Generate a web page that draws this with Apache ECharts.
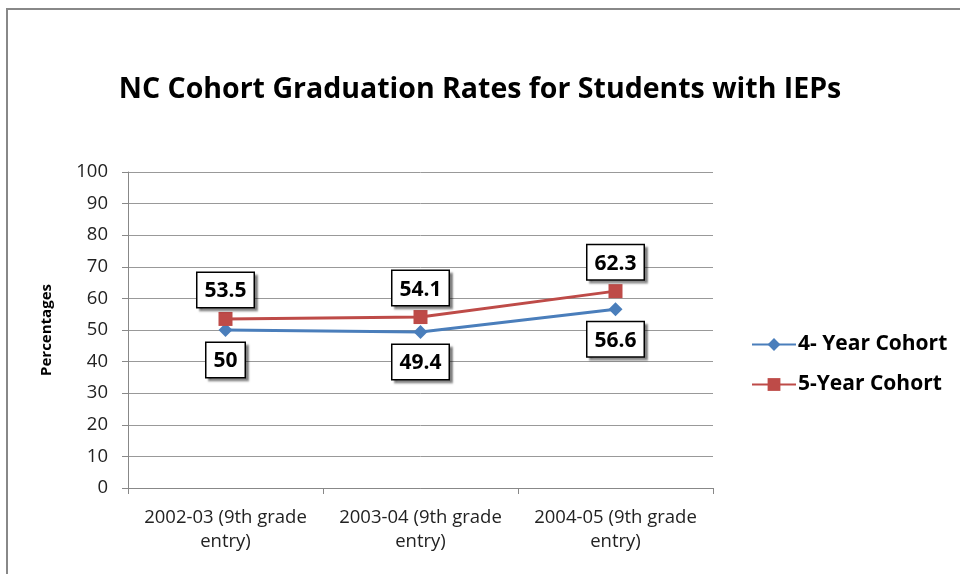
<!DOCTYPE html>
<html>
<head>
<meta charset="utf-8">
<script src="https://cdn.jsdelivr.net/npm/echarts@6/dist/echarts.min.js"></script>
<style>
html,body{margin:0;padding:0;background:#fff;}
#c{width:960px;height:574px;}
</style>
</head>
<body>
<div id="c"></div>
<script>
const categories = ['2002-03 (9th grade\nentry)', '2003-04 (9th grade\nentry)', '2004-05 (9th grade\nentry)'];
const fourYear = [50, 49.4, 56.6];
const fiveYear = [53.5, 54.1, 62.3];
const seriesNames = ['4- Year Cohort', '5-Year Cohort'];
const titleText = 'NC Cohort Graduation Rates for Students with IEPs';
const yAxisName = 'Percentages';

const FONT = '"Open Sans", sans-serif';
const chart = echarts.init(document.getElementById('c'));

const labelBox = (pos, dist) => ({
  show: true,
  position: pos,
  distance: dist,
  fontFamily: FONT,
  fontWeight: 'bold',
  fontSize: 21,
  color: '#000',
  backgroundColor: '#fff',
  borderColor: '#000',
  borderWidth: 1.5,
  padding: [8, 7, 5, 7],
  shadowColor: 'rgba(0,0,0,0.35)',
  shadowOffsetX: 3,
  shadowOffsetY: 3,
  shadowBlur: 2
});

chart.setOption({
  animation: false,
  backgroundColor: '#fff',
  graphic: [{
    type: 'rect',
    shape: { x: 7, y: 9, width: 1000, height: 620 },
    style: { fill: 'none', stroke: '#888', lineWidth: 2 },
    silent: true
  }],
  title: {
    text: titleText,
    left: 'center',
    top: 70,
    textStyle: { fontFamily: FONT, fontWeight: 'bold', fontSize: 28.5, color: '#000' }
  },
  grid: { left: 128, right: 247, top: 172, bottom: 86 },
  legend: {
    orient: 'vertical',
    left: 746,
    top: 329,
    itemGap: 19,
    itemWidth: 44,
    itemHeight: 16,
    textStyle: { fontFamily: FONT, fontWeight: 'bold', fontSize: 21, color: '#000', padding: [0, 0, 0, -3] },
    data: seriesNames
  },
  xAxis: {
    type: 'category',
    data: categories,
    boundaryGap: true,
    axisLine: { lineStyle: { color: '#888', width: 1 } },
    axisTick: { show: true, length: 6, lineStyle: { color: '#888' } },
    axisLabel: { interval: 0, hideOverlap: false, fontFamily: FONT, fontSize: 18.5, color: '#222', margin: 18, lineHeight: 24 }
  },
  yAxis: {
    type: 'value',
    min: 0, max: 100, interval: 10,
    name: yAxisName,
    nameLocation: 'middle',
    nameGap: 74,
    nameRotate: 90,
    nameTextStyle: { fontFamily: FONT, fontWeight: 'bold', fontSize: 15, color: '#000' },
    axisLine: { show: true, lineStyle: { color: '#888' } },
    axisTick: { show: true, length: 6, lineStyle: { color: '#888' } },
    axisLabel: { fontFamily: FONT, fontSize: 18.5, color: '#222', margin: 20 },
    splitLine: { lineStyle: { color: '#999', width: 1 } }
  },
  series: [
    {
      name: seriesNames[0],
      type: 'line',
      data: fourYear,
      symbol: 'diamond',
      symbolSize: 14,
      itemStyle: { color: '#4a7ebb' },
      lineStyle: { color: '#4a7ebb', width: 3 },
      label: labelBox('bottom', 6),
      z: 3
    },
    {
      name: seriesNames[1],
      type: 'line',
      data: fiveYear,
      symbol: 'rect',
      symbolSize: 14,
      itemStyle: { color: '#be4b48' },
      lineStyle: { color: '#be4b48', width: 3 },
      label: labelBox('top', 5),
      z: 4
    }
  ]
});
</script>
</body>
</html>
